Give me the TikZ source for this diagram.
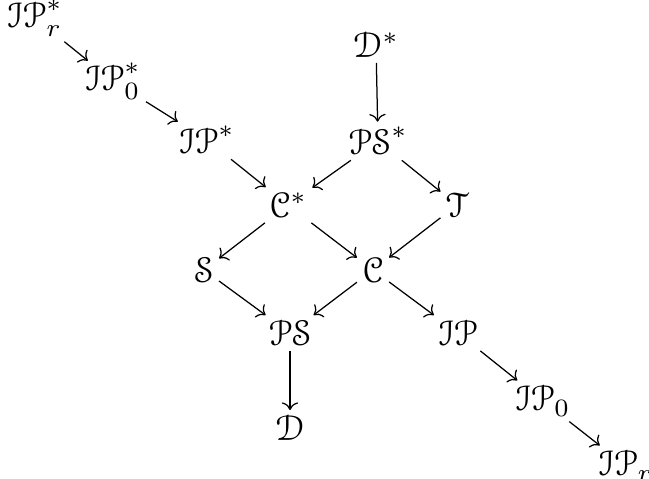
\documentclass[tikz,border=0pt]{standalone}
\usepackage{amsmath}
\DeclareMathAlphabet{\eus}{U}{eus}{m}{n}
\usetikzlibrary{cd}
\tikzset{
  obj/.style={inner xsep=1.5pt, inner ysep=1.5pt, outer sep=0pt},
  arr/.style={-{cm to}, line width=0.35pt},
}
\begin{document}
\begin{tikzpicture}[x=0.28pt,y=-0.28pt]
\useasboundingbox (0,0) rectangle (649,478);
\node[obj] (IPrs) at (35,18) {$\eus{IP}^*_r$};
\node[obj] (IP0s) at (113,81) {$\eus{IP}^*_0$};
\node[obj] (IPs) at (207,140) {$\eus{IP}^*$};
\node[obj] (Ds) at (376,45) {$\eus{D}^*$};
\node[obj] (PSs) at (378,141) {$\eus{PS}^*$};
\node[obj] (Cs) at (288,205) {$\eus{C}^*$};
\node[obj] (T) at (457,205) {$\eus{T}$};
\node[obj] (S) at (204,270) {$\eus{S}$};
\node[obj] (C) at (373,270) {$\eus{C}$};
\node[obj] (PS) at (290,333) {$\eus{PS}$};
\node[obj] (IP) at (458,333) {$\eus{IP}$};
\node[obj] (IP0) at (543,401) {$\eus{IP}_0$};
\node[obj] (D) at (290,428) {$\eus{D}$};
\node[obj] (IPr) at (626,466) {$\eus{IP}_r$};
\draw[arr, shorten >=-1.5pt] (IPrs) -- (IP0s);
\draw[arr, shorten >=-0.5pt] (IP0s) -- (IPs);
\draw[arr] (IPs) -- (Cs);
\draw[arr] (Ds) -- (PSs);
\draw[arr] (PSs) -- (Cs);
\draw[arr] (PSs) -- (T);
\draw[arr] (Cs) -- (S);
\draw[arr] (Cs) -- (C);
\draw[arr] (T) -- (C);
\draw[arr] (S) -- (PS);
\draw[arr] (C) -- (PS);
\draw[arr] (C) -- (IP);
\draw[arr] (PS) -- (D);
\draw[arr] (IP) -- (IP0);
\draw[arr] (IP0) -- (IPr);
\end{tikzpicture}
\end{document}
